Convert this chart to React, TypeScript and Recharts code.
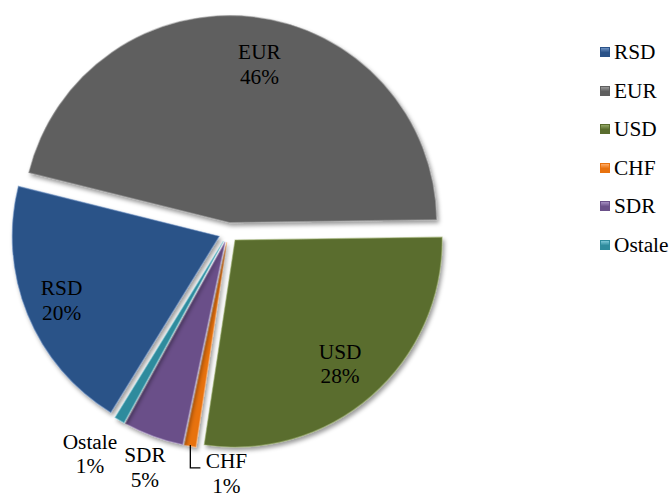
import React from 'react';
import { PieChart, Pie, Cell, Sector, Legend } from 'recharts';

const categories = ['RSD', 'EUR', 'USD', 'CHF', 'SDR', 'Ostale'];
const shares = [20.1, 45.9, 27.6, 0.9, 4.7, 0.8];
const colors = ['#2a5288', '#5f5f5f', '#5a6d2e', '#e8720f', '#6a5089', '#2f8b9d'];
const edgeColors = ['#6f93c4', '#9a9a9a', '#93a865', '#ffab66', '#a58ec2', '#7cc6d6'];

const data = categories.map((name, i) => ({ name, value: shares[i] }));

const W = 672;
const H = 493;
const CX = 228.5;
const CY = 232.5;
const R = 207;
const EXPLODE = 10;
const RAD = Math.PI / 180;
const FONT = "Tinos, 'Liberation Serif', 'Times New Roman', Times, 'Noto Serif', 'DejaVu Serif', FreeSerif, serif";
const FS = 21.33;

const labelPlacement: Record<string, { r: number; shift: number; leader?: boolean }> = {
  RSD: { r: 183, shift: 2 },
  EUR: { r: 164, shift: -4.3 },
  USD: { r: 178, shift: -2.3 },
  CHF: { r: 248, shift: 9.7, leader: true },
  SDR: { r: 256, shift: 1.2 },
  Ostale: { r: 267, shift: -1.1 },
};

const polar = (cx: number, cy: number, r: number, a: number) => ({
  x: cx + r * Math.cos(-a * RAD),
  y: cy + r * Math.sin(-a * RAD),
});

const renderSlice = (props: any) => {
  const { cx, cy, startAngle, endAngle, outerRadius, index, percent } = props;
  const name = categories[index];
  const mid = (startAngle + endAngle) / 2;
  const off = polar(0, 0, EXPLODE, mid);
  const place = labelPlacement[name];
  const lp = polar(cx, cy, place.r, mid + place.shift);
  const b1 = lp.y - 12.2;
  const b2 = lp.y + 12.2;
  let leader = null;
  if (place.leader) {
    const s = polar(cx, cy, outerRadius + EXPLODE - 1, mid);
    leader = (
      <polyline
        points={`${s.x},${s.y} ${s.x},${b1 - 0.5} ${lp.x - 26},${b1 - 0.5}`}
        fill="none"
        stroke="#000"
        strokeWidth={1.3}
      />
    );
  }
  return (
    <g key={`slice-${index}`}>
      {index === 0 && (
        <defs>
          <filter id="pieShadow" x="-20%" y="-20%" width="140%" height="140%">
            <feDropShadow dx="2" dy="3" stdDeviation="2.2" floodColor="#000" floodOpacity="0.4" />
          </filter>
        </defs>
      )}
      <Sector
        cx={cx + off.x}
        cy={cy + off.y}
        innerRadius={0}
        outerRadius={outerRadius}
        startAngle={startAngle}
        endAngle={endAngle}
        fill={colors[index]}
        stroke={edgeColors[index]}
        strokeOpacity={0.55}
        strokeWidth={1.2}
        filter="url(#pieShadow)"
      />
      {leader}
      <text x={lp.x} y={b1} textAnchor="middle" fontFamily={FONT} fontSize={FS} fill="#000">
        {name}
      </text>
      <text x={lp.x} y={b2} textAnchor="middle" fontFamily={FONT} fontSize={FS} fill="#000">
        {`${Math.round(percent * 100)}%`}
      </text>
    </g>
  );
};

const ROW = 38.5;

const renderLegend = () => (
  <div style={{ fontFamily: FONT, fontSize: FS, color: '#000' }}>
    {categories.map((name, i) => (
      <div
        key={name}
        style={{ height: ROW, display: 'flex', alignItems: 'center', whiteSpace: 'nowrap' }}
      >
        <span
          style={{
            display: 'inline-block',
            width: 10,
            height: 10,
            marginRight: 4,
            boxSizing: 'border-box',
            border: `1px solid ${colors[i]}`,
            background: `linear-gradient(180deg, ${edgeColors[i]} 0%, ${colors[i]} 55%)`,
          }}
        />
        <span style={{ lineHeight: `${ROW}px`, fontFamily: FONT }}>{name}</span>
      </div>
    ))}
  </div>
);

export default function App() {
  return (
    <div style={{ position: 'absolute', left: 0, top: 0, width: W, height: H, background: '#fff', fontFamily: FONT }}>
      <PieChart width={W} height={H} margin={{ top: 0, right: 0, bottom: 0, left: 0 }}>
        <Pie
          data={data}
          dataKey="value"
          nameKey="name"
          cx={CX}
          cy={CY}
          innerRadius={0}
          outerRadius={R}
          startAngle={238.4}
          endAngle={-121.6}
          label={renderSlice}
          labelLine={false}
          isAnimationActive={false}
          stroke="none"
        >
          {data.map((d) => (
            <Cell key={d.name} fill="none" stroke="none" />
          ))}
        </Pie>
        <Legend
          layout="vertical"
          align="right"
          verticalAlign="top"
          content={renderLegend}
          wrapperStyle={{ left: 600, top: 33, width: 72 }}
        />
      </PieChart>
    </div>
  );
}
